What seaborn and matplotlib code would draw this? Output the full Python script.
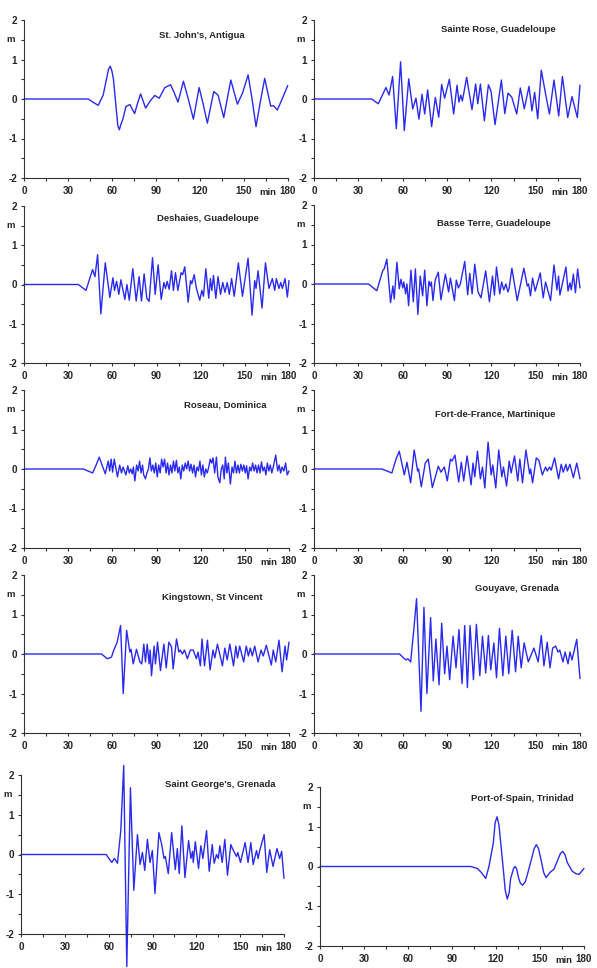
# Tsunami tide-gauge records, Lesser Antilles: water level (m) vs time (min)

import numpy as np
import pandas as pd
import matplotlib
matplotlib.use("Agg")
import matplotlib.pyplot as plt
from matplotlib.ticker import MultipleLocator
import seaborn as sns

#%%
# data: (time in min, level in m)
antigua = [(0, 0), (43.8, 0), (47, -0.08), (50.6, -0.16), (54, 0.1), (56.5, 0.55), (57.6, 0.75),
           (58.8, 0.83), (60, 0.7), (61, 0.5), (63, -0.3), (64, -0.68), (65, -0.78), (66, -0.65),
           (67.5, -0.5), (69.5, -0.19), (72.2, -0.14), (75.4, -0.37), (77.5, -0.1), (79.5, 0.13),
           (82.9, -0.23), (86, -0.05), (89.2, 0.09), (92.2, 0.02), (96, 0.29), (100, 0.36),
           (102.5, 0.15), (105, -0.08), (108.7, 0.45), (112, 0.0), (115.5, -0.51), (119.4, 0.29),
           (122, -0.1), (125, -0.61), (129.4, 0.19), (132.3, 0.1), (136.2, -0.47), (141, 0.48),
           (145.5, -0.13), (149, 0.15), (152.8, 0.61), (155.5, 0.0), (158.2, -0.7), (161, -0.1),
           (164.1, 0.52), (168.2, -0.18), (170.2, -0.17), (172.7, -0.28), (176, 0.0), (179.8, 0.34)]

sainte_rose = [(0, 0), (39, 0), (43.5, -0.12), (48.7, 0.29), (50.8, 0.1), (53.2, 0.57), (55.7, -0.75),
               (58.6, 0.94), (61.1, -0.8), (64.1, 0.51), (66.8, -0.25), (69, 0.02), (71, -0.51),
               (73.1, 0.12), (74.9, -0.38), (76.9, 0.23), (79.6, -0.7), (82.1, 0.04), (84.4, -0.46),
               (86.4, 0.37), (88.4, 0.02), (91.6, 0.5), (94.5, -0.38), (96.8, 0.35), (98.1, -0.08),
               (99.3, 0.1), (100.4, -0.05), (103.3, 0.55), (106.9, -0.27), (109.4, 0.38),
               (110.8, -0.12), (112.6, 0.38), (115.3, -0.55), (118, 0.36), (119.8, 0.2),
               (122.5, -0.65), (126.8, 0.48), (129.1, -0.37), (131.3, 0.15), (133.8, 0.05),
               (137.2, -0.38), (139.6, 0.28), (142.3, -0.25), (145.5, 0.32), (147.5, -0.3),
               (149.3, 0.17), (151.4, -0.5), (153.8, 0.73), (156.6, 0.15), (159.3, -0.38),
               (162.4, 0.48), (165.6, -0.43), (168.1, 0.57), (171.7, -0.47), (174.6, 0.06),
               (178.2, -0.47), (180, 0.35)]

deshaies = [(0, 0), (36.9, 0), (42.1, -0.15), (46.6, 0.38), (48.2, 0.2), (50, 0.76), (52.2, -0.75),
            (55.2, 0.55), (58.3, -0.33), (60.4, 0.17), (61.5, -0.15), (62.9, 0.08), (64.4, -0.25),
            (65.8, 0.12), (68.5, -0.38), (69.9, 0.0), (71.5, -0.4), (73.9, 0.4), (76.2, -0.42),
            (78.2, 0.2), (79.8, -0.42), (81.6, 0.27), (83.4, -0.35), (85, -0.43), (87.3, 0.68),
            (89.1, -0.25), (91.1, 0.5), (93.2, -0.38), (95, 0.05), (96.1, -0.1), (97.2, 0.08),
            (98.6, -0.12), (100.2, 0.35), (101.5, -0.15), (102.9, 0.3), (104.5, -0.15),
            (106.7, 0.3), (107.8, 0.25), (109.2, 0.45), (111.5, -0.45), (113.1, 0.1), (114, 0.02),
            (115.6, 0.25), (117.1, -0.1), (119.4, -0.4), (120.8, -0.15), (121.9, -0.3),
            (123.5, 0.4), (125.5, -0.35), (126.6, 0.15), (127.6, -0.15), (128.7, 0.23),
            (130.3, -0.35), (131.8, 0.2), (133.5, -0.25), (135, 0.05), (136.5, -0.2), (138, 0.05),
            (139.5, -0.25), (141, 0.15), (142.8, -0.3), (145.6, 0.55), (148.4, -0.3), (152.2, 0.67),
            (154.9, -0.78), (156.7, 0.1), (157.6, -0.1), (159, 0.35), (161.7, -0.6), (164, 0.55),
            (166.4, -0.1), (168.7, 0.15), (170.3, -0.15), (171.4, 0.15), (173.2, -0.1),
            (174.4, 0.05), (175.5, -0.1), (177.3, 0.15), (178.9, -0.32), (180, 0.1)]

basse_terre = [(0, 0), (36.9, 0), (42.5, -0.17), (46.6, 0.35), (47.5, 0.38), (49.3, 0.63),
               (51.8, -0.47), (53.4, -0.05), (54.3, -0.38), (56.1, 0.55), (57.7, -0.12), (58.8, 0.12),
               (60.1, -0.1), (60.8, 0.05), (62, -0.25), (62.9, 0.0), (64, -0.55), (65.6, 0.35),
               (67.2, -0.45), (68.6, 0.38), (70.3, -0.77), (71.9, 0.2), (73.5, -0.3), (74.9, 0.35),
               (76.4, -0.55), (77.8, 0.07), (78.7, -0.05), (79.4, 0.05), (80.5, -0.42), (82, 0.1),
               (84.1, 0.3), (85.9, -0.4), (88.9, 0.25), (91.1, -0.2), (92.3, 0.15), (95, -0.42),
               (96.3, 0.1), (97.7, -0.1), (99, 0.0), (102, 0.57), (104, -0.27), (105.4, 0.27),
               (107, -0.25), (108.8, 0.5), (111, -0.2), (113, -0.35), (116.2, 0.33), (118.7, -0.45),
               (120.8, 0.2), (122.1, -0.28), (123.5, 0.43), (125.7, -0.25), (127, 0.05),
               (128.4, -0.15), (129.8, 0.0), (131.2, -0.2), (132, -0.12), (133.9, 0.4),
               (137.5, -0.42), (142, 0.4), (144.3, -0.05), (145.2, 0.0), (146.5, -0.3),
               (147.9, 0.15), (149.7, -0.18), (153.1, 0.28), (155.1, -0.35), (156.7, 0.05),
               (160.1, -0.42), (162.4, 0.48), (164.4, -0.15), (165.5, 0.2), (166.4, -0.28),
               (170.5, 0.43), (171.9, -0.18), (173.2, 0.03), (174.1, -0.15), (175.5, 0.25),
               (176.9, -0.22), (178.4, 0.38), (180, -0.1)]

roseau = [(0, 0), (40.3, 0), (46.6, -0.1), (49, 0.1), (51.1, 0.3), (53, 0.1), (55.2, -0.12),
          (57.2, 0.2), (58.2, -0.05), (59.2, 0.25), (60.2, -0.08), (61.3, 0.25), (63.5, -0.2),
          (65, 0.1), (66.2, -0.1), (67.3, 0.05), (69.2, -0.15), (70.5, 0.08), (71.5, -0.1),
          (72.5, 0.0), (73.5, -0.12), (74.3, 0.05), (75.3, -0.3), (76.5, 0.1), (77.5, -0.05),
          (78.5, 0.2), (79.5, -0.1), (80.5, 0.1), (81.3, -0.15), (82.5, -0.25), (83.5, -0.1),
          (84.5, 0.0), (85.5, 0.28), (86.5, -0.05), (87.5, 0.1), (88.5, -0.1), (89.5, 0.15),
          (90.5, -0.2), (91.5, 0.1), (92.5, -0.1), (93.5, 0.25), (94.5, 0.05), (95.5, 0.25),
          (96.5, -0.1), (97.5, 0.15), (98.5, -0.15), (99.5, 0.1), (100.5, -0.1), (101.5, 0.2),
          (102.5, -0.05), (103.5, 0.22), (104.5, -0.1), (105.5, 0.05), (106.5, -0.25),
          (107.5, 0.1), (108.5, -0.05), (109.5, 0.15), (110.5, 0.0), (111.5, 0.2), (112.5, -0.05),
          (113.5, 0.12), (114.5, -0.1), (115.5, 0.1), (116.5, -0.2), (117.5, 0.05),
          (118.5, -0.05), (119.5, 0.2), (120.5, -0.15), (121.5, 0.1), (122.5, -0.2), (123.5, 0.0),
          (124.5, -0.1), (125.5, 0.05), (126.5, 0.25), (127.5, 0.15), (128.4, 0.28),
          (129.5, -0.1), (130.7, 0.3), (131.7, -0.2), (133, -0.35), (134, 0.0), (135, 0.1),
          (136, -0.25), (136.8, 0.3), (137.8, -0.1), (138.8, 0.15), (140.2, -0.38), (141.3, 0.05),
          (142.3, -0.1), (143.3, 0.2), (144.3, -0.1), (145.3, 0.1), (146.3, -0.1), (147.3, 0.12),
          (148.3, -0.05), (149.3, 0.1), (150.3, -0.1), (151.2, 0.08), (152.2, -0.25),
          (153.3, 0.05), (154.3, -0.05), (155.3, 0.15), (156.3, -0.05), (157.3, 0.1),
          (158.3, -0.1), (159.3, 0.1), (160.3, -0.1), (161.3, 0.18), (162.3, -0.05), (163.3, 0.05),
          (164.3, -0.15), (165.3, 0.15), (166.3, -0.05), (167.3, 0.1), (168.3, -0.1),
          (169.3, 0.05), (171, 0.35), (172.3, -0.05), (173.3, 0.1), (174.3, -0.1), (175.3, 0.05),
          (176.5, -0.05), (177.7, 0.15), (178.8, -0.15), (180, -0.05)]

fort_de_france = [(0, 0), (45.9, 0), (52.7, -0.1), (55.5, 0.25), (57.7, 0.45), (61.1, -0.15),
                  (62.9, 0.17), (65.4, -0.35), (67.8, 0.48), (70.1, -0.05), (70.8, 0.0),
                  (72.6, -0.45), (75.3, 0.15), (77.3, 0.25), (80.1, -0.47), (84.1, 0.07),
                  (85.9, -0.08), (88.2, 0.05), (90.2, -0.3), (92.3, 0.25), (93.4, 0.2), (95.4, 0.35),
                  (97.9, -0.33), (99.7, 0.17), (101.3, -0.3), (103.6, 0.33), (106.3, -0.4),
                  (107.6, 0.15), (108.8, -0.2), (110.6, 0.45), (112.6, -0.25), (114, 0.05),
                  (115.6, -0.48), (117.8, 0.68), (119.9, -0.15), (121, 0.1), (123, -0.48),
                  (125, 0.48), (127.1, -0.2), (128.2, 0.05), (130.3, -0.43), (132.1, 0.2),
                  (133.4, -0.1), (135.7, 0.33), (137.9, -0.3), (139.3, 0.25), (141.1, -0.35),
                  (143.4, 0.48), (145.9, -0.12), (146.6, 0.0), (147.9, -0.35), (150.4, 0.28),
                  (152.2, 0.22), (154.5, -0.15), (156.7, 0.05), (157.8, -0.05), (159.4, 0.05),
                  (160.5, -0.03), (162.8, 0.28), (165.5, -0.25), (167.3, 0.12), (168.6, -0.08),
                  (170.5, 0.12), (171.4, -0.05), (173.2, 0.12), (175.5, -0.22), (177.8, 0.15),
                  (180, -0.25)]

kingstown = [(0, 0), (52.7, 0), (56.5, -0.12), (59.4, -0.08), (61, 0.1), (63.3, 0.3), (65.6, 0.72),
             (67.4, -1.0), (69.7, 0.6), (71.9, 0.05), (72.7, 0.12), (74.2, -0.25), (76.4, 0.12),
             (78.7, -0.2), (80, -0.25), (81.4, 0.25), (82.5, -0.2), (83.7, 0.25), (85, -0.25),
             (85.7, 0.1), (86.6, -0.55), (88.4, 0.2), (89.3, -0.25), (90.7, 0.3), (92.7, -0.42),
             (95, 0.25), (96.6, -0.35), (98.4, 0.3), (100.2, 0.18), (101.3, -0.38), (103.6, 0.38),
             (105.2, 0.05), (106.1, 0.1), (107.6, 0.0), (109, 0.1), (111, -0.12), (113, 0.1),
             (114.9, 0.1), (117.1, -0.12), (118.2, 0.05), (119.8, -0.3), (120.9, 0.38),
             (122.6, -0.3), (124.6, 0.35), (126.4, -0.4), (128.4, 0.1), (129.6, -0.1),
             (131.4, 0.25), (134.8, -0.3), (136.4, 0.15), (138, -0.15), (139.8, 0.25),
             (142.3, -0.3), (143.9, 0.2), (145, -0.1), (146.5, 0.2), (149.2, -0.2), (151, 0.2),
             (152.4, -0.05), (153.7, 0.15), (155.1, -0.05), (156.7, 0.2), (159, -0.2), (161, 0.1),
             (162.5, -0.05), (164.6, 0.22), (168, -0.28), (169.3, 0.1), (171, -0.2),
             (173.2, 0.35), (175.3, -0.45), (177.3, 0.2), (178.4, -0.15), (180, 0.3)]

gouyave = [(0, 0), (57.9, 0), (60.6, -0.1), (62.4, -0.15), (63.5, -0.12), (65.4, -0.2), (67.5, 0.6),
           (69.4, 1.4), (72.4, -1.45), (74.4, 1.18), (76.4, -1.0), (78.9, 0.92), (80.7, -0.68),
           (82.5, 0.38), (84.6, -0.78), (86.4, 0.78), (88.4, -0.5), (90, 0.2), (91.8, -0.65),
           (94.1, 0.45), (96.1, -0.35), (98.1, 0.62), (100.2, -0.75), (102, 0.72), (103.8, -0.85),
           (105.6, 0.72), (107.9, -0.65), (109.9, 0.75), (112.2, -0.55), (114, 0.45),
           (116.2, -0.48), (118, 0.47), (119.6, -0.4), (121.7, 0.28), (123.5, -0.6), (125.5, 0.65),
           (127.8, -0.55), (129.8, 0.45), (131.8, -0.5), (134.1, 0.6), (136.4, -0.45),
           (138.2, 0.45), (140.2, -0.35), (142.2, 0.28), (145, -0.2), (148.8, 0.15),
           (151.7, -0.2), (153.8, 0.47), (155.6, -0.3), (157.8, 0.3), (159.7, -0.35),
           (161.5, 0.15), (163.5, 0.2), (165.1, 0.05), (166.3, 0.1), (168.5, -0.2), (169.9, 0.05),
           (171.9, -0.25), (173.2, 0.05), (174.6, -0.15), (177.8, 0.37), (180, -0.62)]

saint_georges = [(0, 0), (58.3, 0), (62.1, -0.2), (64, -0.1), (66, -0.22), (68.3, 0.6), (70.3, 2.24),
                 (72.4, -2.82), (74.9, 1.68), (77.2, -0.9), (79.7, 0.5), (81.5, -0.25), (83.1, 0.05),
                 (84.7, -0.4), (86.5, 0.38), (88.3, -0.2), (89.9, 0.1), (91.7, -0.98), (94.4, 0.55),
                 (96.3, 0.25), (97.9, -0.1), (98.8, -0.05), (100.8, -0.48), (103.1, 0.55),
                 (105.6, -0.38), (107, 0.15), (108.3, -0.48), (110.1, 0.72), (112.2, -0.58),
                 (114.7, 0.35), (116.3, -0.1), (117.4, 0.08), (117.9, -0.2), (119.3, 0.32),
                 (121.5, -0.35), (123.1, 0.22), (124.5, -0.1), (127, 0.6), (128.8, -0.42),
                 (130.9, 0.25), (132.2, -0.22), (133.8, 0.0), (135, -0.1), (136.1, 0.22),
                 (137.7, -0.2), (139.5, 0.38), (141.3, -0.52), (143.6, 0.25), (144.7, 0.15),
                 (147.5, -0.05), (148.4, 0.05), (150.2, -0.2), (153.4, 0.3), (155.4, -0.2),
                 (157.3, 0.3), (158.9, -0.25), (161.2, 0.1), (162.3, -0.1), (163.4, 0.1),
                 (166.4, 0.5), (168.2, -0.45), (170.2, 0.12), (172.5, -0.3), (175.2, 0.15),
                 (177, -0.1), (178.4, 0.08), (180, -0.6)]

port_of_spain = [(0, 0), (102.7, 0), (107.3, -0.05), (110, -0.15), (113, -0.3), (115.2, 0.0),
                 (118.2, 0.6), (119.4, 1.1), (120.7, 1.25), (122, 1.05), (123.2, 0.6), (124.8, 0.0),
                 (126.3, -0.6), (127.7, -0.82), (129, -0.65), (130, -0.3), (132, -0.05), (133, 0.0),
                 (134, -0.05), (135.5, -0.3), (136.6, -0.42), (138.2, -0.47), (140, -0.38),
                 (141.4, -0.2), (144.3, 0.2), (146, 0.45), (147.5, 0.55), (149, 0.45), (150.5, 0.2),
                 (152.5, -0.15), (154.1, -0.28), (156.8, -0.15), (159.5, -0.07), (162.5, 0.2),
                 (164, 0.33), (165.5, 0.38), (167, 0.3), (168.6, 0.1), (172, -0.12), (174.5, -0.18),
                 (176.6, -0.2), (180, -0.05)]

stations = ["St. John's, Antigua", "Sainte Rose, Guadeloupe", "Deshaies, Guadeloupe",
            "Basse Terre, Guadeloupe", "Roseau, Dominica", "Fort-de-France, Martinique",
            "Kingstown, St Vincent", "Gouyave, Grenada", "Saint George's, Grenada",
            "Port-of-Spain, Trinidad"]
records = [antigua, sainte_rose, deshaies, basse_terre, roseau, fort_de_france,
           kingstown, gouyave, saint_georges, port_of_spain]

#%%
# layout (pixel boxes of each panel: left, right, top, bottom) and title anchors (min, m)
W, H = 597, 968
boxes = [(24, 288, 20, 178), (314, 580, 20, 178),
         (24, 289, 206, 363), (314, 580, 205, 363),
         (24, 289, 390, 548), (314, 580, 390, 548),
         (24, 289, 575, 733), (314, 580, 575, 733),
         (21, 284, 775, 934), (320, 584, 787, 946)]
title_xy = [(121, 1.6), (124.5, 1.75), (125, 1.69), (121.8, 1.54), (136.5, 1.62),
            (122.5, 1.39), (127.7, 1.44), (137.4, 1.65), (136.2, 1.77), (137.7, 1.7)]

sns.set_style("ticks")
plt.rcParams['font.family'] = ['Liberation Sans', 'DejaVu Sans']
plt.rcParams['font.weight'] = 'bold'

fig = plt.figure(figsize=(W / 100, H / 100), dpi=100)
line_color = '#2a2af0'
fs = 7.1     # tick labels
fs_t = 6.8   # station names

for i, (name, rec) in enumerate(zip(stations, records)):
    l, r, t, b = boxes[i]
    ax = fig.add_axes([l / W, 1 - b / H, (r - l) / W, (b - t) / H])
    df = pd.DataFrame(rec, columns=['time', 'level'])
    sns.lineplot(data=df, x='time', y='level', ax=ax, color=line_color,
                 linewidth=1.0, estimator=None, sort=True)
    for ln in ax.lines:
        ln.set_clip_on(False)

    ax.set_xlim(0, 180)
    ax.set_ylim(-2, 2)
    ax.xaxis.set_major_locator(MultipleLocator(30))
    ax.xaxis.set_minor_locator(MultipleLocator(15))
    ax.yaxis.set_major_locator(MultipleLocator(1))
    ax.yaxis.set_minor_locator(MultipleLocator(0.5))
    ax.tick_params(which='both', direction='out', width=0.8, color='#333333',
                   labelsize=fs)
    ax.tick_params(which='major', length=2.5)
    ax.tick_params(which='minor', length=2.2)
    ax.tick_params(axis='x', pad=3.0)
    ax.tick_params(axis='y', pad=2.5)
    ax.set_yticks([-2, -1, 0, 1, 2])
    ax.set_yticklabels(['-2', '-1', '0', '1', '2'])
    for lab in ax.get_xticklabels() + ax.get_yticklabels():
        lab.set_fontweight('bold')
    sns.despine(ax=ax)
    for sp in ('left', 'bottom'):
        ax.spines[sp].set_linewidth(0.8)
        ax.spines[sp].set_color('#333333')
    ax.set_xlabel('')
    ax.set_ylabel('')
    ax.patch.set_alpha(0)

    tx, ty = title_xy[i]
    ax.text(tx, ty, name, ha='center', va='center', fontsize=fs_t, fontweight='bold')
    ax.text(-0.05, 0.875, 'm', transform=ax.transAxes, ha='center', va='center',
            fontsize=fs_t, fontweight='bold')
    ax.text(0.925, -0.09, 'min', transform=ax.transAxes, ha='center', va='center',
            fontsize=fs_t, fontweight='bold')

fig.savefig('out.png', dpi=100)
